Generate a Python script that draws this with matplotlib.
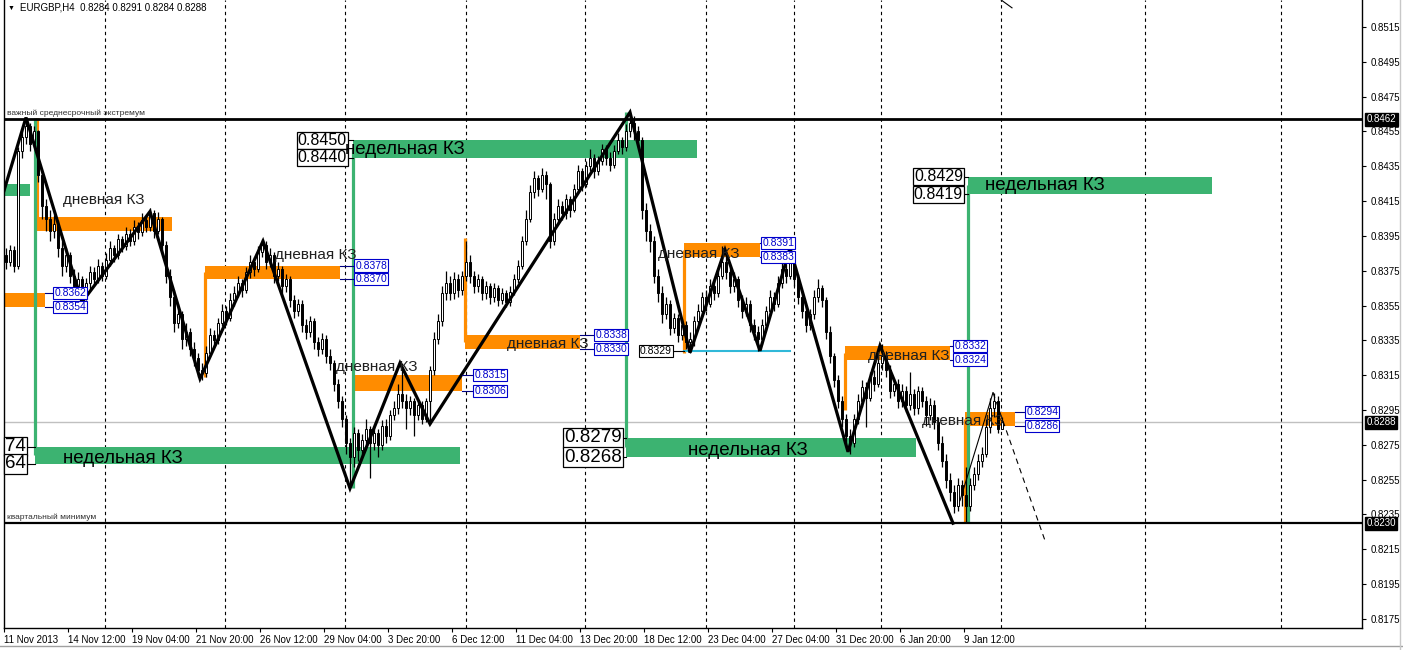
import matplotlib
matplotlib.use("Agg")
import matplotlib.pyplot as plt
from matplotlib.lines import Line2D
import numpy as np

plt.rcParams['font.family'] = ['Liberation Sans', 'DejaVu Sans']

# EURGBP H4 candles, prices in pips above 0.8000 (open = previous close)
first_open = 384
close = [380, 387, 378, 444, 452, 458, 448, 455, 430, 412,
         405, 398, 402, 388, 378, 384, 372, 366, 370, 360,
         368, 374, 370, 378, 372, 381, 388, 384, 393, 389,
         396, 392, 400, 397, 404, 400, 408, 398, 405, 390,
         372, 360, 345, 350, 336, 340, 330, 325, 318, 316,
         328, 338, 335, 345, 352, 348, 358, 362, 368, 364,
         374, 380, 376, 386, 390, 380, 384, 372, 376, 366,
         370, 358, 352, 356, 344, 340, 346, 334, 330, 336,
         326, 322, 310, 300, 290, 276, 268, 282, 272, 278,
         284, 276, 282, 275, 286, 280, 292, 296, 304, 300,
         296, 300, 292, 298, 290, 300, 318, 336, 346, 362,
         368, 362, 370, 364, 372, 380, 372, 366, 370, 362,
         366, 360, 365, 358, 362, 357, 363, 370, 378, 392,
         405, 420, 428, 422, 430, 425, 392, 405, 412, 408,
         416, 410, 422, 432, 425, 435, 440, 432, 438, 445,
         440, 436, 444, 450, 446, 455, 460, 455, 450, 410,
         398, 392, 372, 362, 350, 356, 342, 348, 338, 344,
         334, 336, 346, 352, 360, 356, 366, 362, 372, 380,
         374, 366, 370, 358, 352, 356, 344, 340, 336, 344,
         352, 360, 356, 368, 376, 372, 382, 370, 360, 352,
         344, 350, 360, 365, 358, 340, 326, 312, 300, 290,
         280, 276, 290, 300, 308, 302, 314, 310, 322, 326,
         318, 306, 310, 300, 306, 298, 304, 296, 306, 300,
         292, 298, 288, 276, 266, 255, 248, 240, 252, 246,
         240, 252, 258, 266, 270, 285, 296, 300, 284, 288]
high = [388, 390, 389, 446, 456, 463, 460, 458, 456, 432,
        416, 410, 407, 404, 392, 388, 386, 376, 374, 372,
        371, 378, 377, 382, 380, 385, 392, 390, 396, 395,
        400, 399, 404, 403, 408, 407, 411, 410, 409, 406,
        392, 376, 364, 356, 352, 345, 342, 334, 328, 322,
        332, 342, 341, 348, 356, 355, 362, 366, 372, 370,
        377, 384, 383, 389, 393, 392, 388, 386, 380, 378,
        373, 372, 361, 359, 358, 347, 349, 348, 337, 339,
        338, 330, 324, 313, 303, 292, 279, 285, 284, 281,
        290, 286, 285, 284, 289, 290, 295, 300, 310, 322,
        304, 303, 302, 301, 300, 302, 320, 340, 350, 366,
        375, 372, 374, 373, 375, 392, 384, 375, 373, 372,
        369, 368, 368, 367, 365, 364, 366, 373, 381, 395,
        410, 424, 432, 430, 434, 432, 426, 408, 416, 415,
        419, 418, 425, 436, 434, 438, 445, 442, 441, 448,
        447, 443, 447, 454, 452, 459, 466, 464, 458, 452,
        414, 402, 395, 376, 366, 360, 358, 351, 350, 347,
        346, 340, 349, 356, 363, 364, 370, 369, 375, 389,
        386, 377, 374, 372, 361, 360, 358, 347, 343, 347,
        355, 364, 363, 372, 380, 379, 388, 385, 373, 363,
        355, 353, 364, 370, 367, 360, 343, 328, 315, 303,
        293, 284, 293, 304, 312, 311, 317, 318, 326, 333,
        329, 321, 313, 313, 310, 309, 317, 307, 309, 308,
        303, 302, 301, 291, 280, 270, 259, 252, 256, 255,
        262, 256, 262, 270, 274, 290, 302, 305, 303, 291]
low = [376, 378, 374, 376, 440, 448, 444, 446, 426, 405,
       398, 392, 394, 383, 372, 374, 368, 362, 360, 356,
       358, 364, 366, 368, 369, 370, 378, 380, 382, 386,
       387, 389, 390, 393, 395, 397, 398, 394, 396, 386,
       368, 355, 340, 342, 330, 332, 326, 320, 314, 312,
       314, 326, 331, 333, 343, 344, 346, 355, 360, 360,
       362, 371, 372, 374, 383, 376, 377, 368, 369, 362,
       363, 354, 348, 349, 340, 336, 337, 330, 326, 327,
       322, 318, 306, 296, 285, 270, 251, 262, 266, 268,
       274, 256, 272, 268, 272, 276, 278, 289, 293, 296,
       284, 292, 280, 289, 287, 288, 287, 315, 333, 343,
       358, 358, 359, 360, 361, 369, 368, 362, 363, 358,
       359, 356, 357, 355, 356, 354, 355, 361, 368, 376,
       390, 403, 417, 418, 420, 416, 388, 390, 402, 404,
       405, 406, 409, 420, 421, 423, 432, 428, 430, 436,
       436, 432, 434, 442, 442, 444, 452, 450, 446, 405,
       392, 386, 368, 357, 345, 347, 338, 339, 334, 335,
       330, 328, 332, 343, 349, 352, 354, 358, 360, 370,
       370, 362, 363, 354, 348, 349, 340, 335, 329, 333,
       341, 350, 352, 354, 365, 368, 370, 366, 356, 348,
       340, 341, 347, 357, 354, 336, 322, 308, 296, 285,
       276, 270, 274, 287, 297, 285, 300, 306, 308, 318,
       314, 302, 303, 296, 297, 294, 295, 292, 293, 297,
       286, 289, 284, 272, 262, 250, 243, 236, 237, 240,
       230, 237, 249, 255, 262, 268, 282, 291, 282, 284]

# x axis labels every 16 bars
xlabels = ["11 Nov 2013", "14 Nov 12:00", "19 Nov 04:00", "21 Nov 20:00",
           "26 Nov 12:00", "29 Nov 04:00", "3 Dec 20:00", "6 Dec 12:00",
           "11 Dec 04:00", "13 Dec 20:00", "18 Dec 12:00", "23 Dec 04:00",
           "27 Dec 04:00", "31 Dec 20:00", "6 Jan 20:00", "9 Jan 12:00"]
week_grid = [25.25, 55.25, 85.25, 115.5, 145.25, 175.5, 197.5, 219.25,
             249.25, 285.25, 319.25]

# weekly zones (green)
w_lo = [418, 264, 440, 268, 419]
w_hi = [425, 274, 450, 279, 429]
w_start = [0, 7.75, 87.25, 155.5, 241]
w_end = [6.5, 114, 173.25, 228, 302]
w_extreme = [None, 463, 250, 466, 230]
w_label_x = [None, 6.0, 85.75, 154.5, 239.75]
w_text_x = [None, 14.75, 85.25, 171, 245.25]
w_text_y = [None, 267.4, 444.4, 272, 423.7]
# the first labelled zone is cut by the chart edge: only the last digits show
w_label_txt = [None, ('74', '64'), ('0.8450', '0.8440'),
               ('0.8279', '0.8268'), ('0.8429', '0.8419')]

# daily zones (orange)
d_lo = [354, 398, 370, 306, 330, 383, 324, 286]
d_hi = [362, 406, 378, 315, 338, 391, 332, 294]
d_start = [0, 8.25, 50.25, 87.25, 115.25, 170, 210.25, 240.25]
d_end = [10.25, 42, 84, 114.5, 144, 189, 236.5, 252.75]
d_extreme = [None, 463, 314, None, 394, 328, 295, 230]
d_label_x = [12, None, 87.25, 117, 147.25, 189, 237, 255]
d_text_x = [None, 14.75, 67.75, 83, 125.75, 163.5, 216, 229.5]
d_text_y = [None, 415.6, 384, 319.7, 333, 384.6, 326, 288.7]

# zigzag
zz_x = [0, 5.5, 19.5, 36.5, 49, 64.75, 86.5, 99, 106.5, 156.5, 171.5,
        180.25, 189, 196.5, 211, 219, 237.25]
zz_y = [421, 463, 357, 409, 313, 392, 250, 322, 287, 466, 328, 387, 329,
        388, 271, 332, 230]


def P(v):
    return 0.8 + np.asarray(v, dtype=float) / 10000.0


fig = plt.figure(figsize=(14.03, 6.5), dpi=100)
ax = fig.add_axes([4 / 1403, 22 / 650, 1358 / 1403, 628 / 650])
ax.set_xlim(0, 339.5)
ax.set_ylim(0.81698, 0.85305)

# grid
for g in week_grid:
    ax.axvline(g, color='black', ls=(0, (3, 3)), lw=0.8, zorder=0.5)

# current price line
ax.axhline(P(288), color='#c0c0c0', lw=1, zorder=0.6)

# weekly zones
green = '#3cb371'
for i in range(len(w_lo)):
    ax.fill_between([w_start[i], w_end[i]], P(w_lo[i]), P(w_hi[i]),
                    color=green, lw=0, zorder=1)
    if w_extreme[i] is not None:
        ax.plot([w_start[i], w_start[i]],
                [P(w_extreme[i]), P((w_lo[i] + w_hi[i]) / 2)],
                color=green, lw=2.3, zorder=1.2, solid_capstyle='butt')
    if w_label_txt[i] is not None:
        fs = 11.5 if i in (2, 4) else 13.5
        for v, t in zip((w_hi[i], w_lo[i]), w_label_txt[i]):
            if i == 1:
                ax.text(0.3, P(v), t, ha='left', va='center', fontsize=fs,
                        zorder=4, bbox=dict(boxstyle='square,pad=0.06',
                                            fc='white', ec='black', lw=0.9))
                x_end = 6.0
            else:
                ax.text(w_label_x[i], P(v), t, ha='right', va='center',
                        fontsize=fs, zorder=4,
                        bbox=dict(boxstyle='square,pad=0.06', fc='white',
                                  ec='black', lw=0.9))
                x_end = w_label_x[i]
            ax.plot([x_end, w_start[i]], [P(v), P(v)], color='black',
                    lw=0.8, zorder=3.9)
        ax.text(w_text_x[i], P(w_text_y[i]), 'недельная КЗ', fontsize=13.5,
                ha='left', va='center', zorder=4.5)

# daily zones
orange = '#ff8c00'
for i in range(len(d_lo)):
    ax.fill_between([d_start[i], d_end[i]], P(d_lo[i]), P(d_hi[i]),
                    color=orange, lw=0, zorder=1.1)
    if d_extreme[i] is not None:
        ax.plot([d_start[i], d_start[i]],
                [P(d_extreme[i]), P((d_lo[i] + d_hi[i]) / 2)],
                color=orange, lw=2.3, zorder=1.15, solid_capstyle='butt')
    if d_label_x[i] is not None:
        for v in (d_hi[i], d_lo[i]):
            ax.text(d_label_x[i] + 0.6, P(v), '0.%04d' % (8000 + v), ha='left',
                    va='center', fontsize=7.5, color='#0000cc', zorder=4,
                    bbox=dict(boxstyle='square,pad=0.1', fc='white',
                              ec='#0000cc', lw=0.8))
            ax.plot([d_end[i], d_label_x[i] + 0.6], [P(v), P(v)],
                    color='#000080', lw=0.8, zorder=3.9)
    if d_text_x[i] is not None:
        ax.text(d_text_x[i], P(d_text_y[i]), 'дневная КЗ', fontsize=11,
                ha='left', va='center', zorder=3.95, color='#202020')

# cyan level
ax.plot([170, 196.5], [P(329), P(329)], color='#30b8d8', lw=1.5, zorder=1.3)
ax.text(167, P(329), '0.8329', ha='right', va='center', fontsize=7.5,
        zorder=4, bbox=dict(boxstyle='square,pad=0.1', fc='white',
                            ec='black', lw=0.8))
ax.plot([167, 170], [P(329), P(329)], color='black', lw=0.8)

# key horizontal levels
ax.axhline(P(462), color='black', lw=2, zorder=2.5)
ax.axhline(P(230), color='black', lw=1.6, zorder=2.5)
ax.text(0.7, P(463.3), 'важный среднесрочный экстремум', fontsize=6,
        va='bottom', ha='left', color='#303030')
ax.text(0.7, P(231.3), 'квартальный минимум', fontsize=6, va='bottom',
        ha='left', color='#303030')

# candles
c = np.array(close)
o = np.array([first_open] + close[:-1])
h = np.maximum(np.array(high), np.maximum(o, c))
lo = np.minimum(np.array(low), np.minimum(o, c))
xs = np.arange(len(c)) + 0.5
ax.vlines(xs, P(lo), P(h), color='black', lw=0.9, zorder=2)
bull = c >= o
body_b = np.minimum(o, c)
body_h = np.maximum(np.abs(c - o), 0.4)
ax.bar(xs[bull], body_h[bull] / 10000.0, bottom=P(body_b[bull]), width=0.7,
       color='white', edgecolor='black', lw=0.7, zorder=2.1)
ax.bar(xs[~bull], body_h[~bull] / 10000.0, bottom=P(body_b[~bull]),
       width=0.7, color='black', edgecolor='black', lw=0.7, zorder=2.1)

# zigzag and projection
ax.plot(zz_x, P(zz_y), color='black', lw=2.3, zorder=3, solid_joinstyle='miter')
ax.plot([239, 247.25], P([243, 305]), color='black', lw=0.8, zorder=3)
ax.plot([247.25, 260.25], P([305, 220]), color='black', lw=0.8,
        ls=(0, (5, 4)), zorder=3)
ax.plot([249, 252], P([531, 526]), color='black', lw=0.8, zorder=3)

# axes styling
ax.spines['top'].set_visible(False)
for s in ('left', 'right', 'bottom'):
    ax.spines[s].set_linewidth(1)

ax.set_xticks(np.arange(len(xlabels)) * 16)
ax.set_xticklabels(xlabels, fontsize=7, ha='left')
ax.tick_params(axis='x', length=3, width=0.8, pad=2)

yt = np.arange(0.8175, 0.8516, 0.0020)
ax.yaxis.tick_right()
ax.set_yticks(yt)
ax.set_yticklabels(['%.4f' % v for v in yt], fontsize=7)
ax.tick_params(axis='y', length=3, width=0.8, pad=3)

for v in (462, 288, 230):
    ax.annotate('0.%04d' % (8000 + v), xy=(1, P(v)),
                xycoords=('axes fraction', 'data'), xytext=(3.2, 0),
                textcoords='offset points', ha='left', va='center',
                fontsize=7, color='white', annotation_clip=False,
                bbox=dict(boxstyle='square,pad=0.15', fc='black', ec='black'))

fig.text(8 / 1403, 1 - 8 / 650, '▼', fontsize=5, va='center', ha='left')
fig.text(20 / 1403, 1 - 8 / 650, 'EURGBP,H4  0.8284 0.8291 0.8284 0.8288',
         fontsize=7, va='center', ha='left')

fig.add_artist(Line2D([0, 1], [4 / 650, 4 / 650], color='#a0a0a0', lw=1))
fig.add_artist(Line2D([1400 / 1403, 1400 / 1403], [0, 1], color='#c8c8c8', lw=1))

fig.savefig('out.png', dpi=100)
